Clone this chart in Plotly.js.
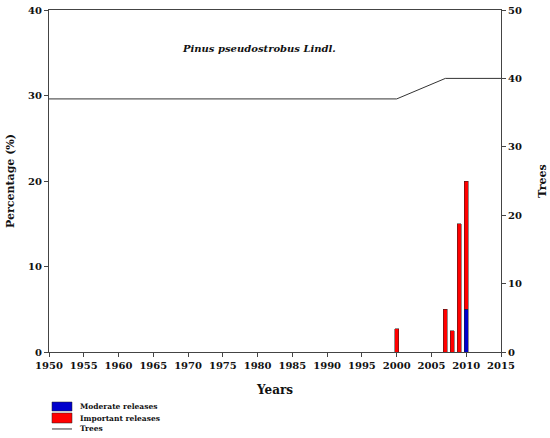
<!DOCTYPE html>
<html>
<head>
<meta charset="utf-8">
<script src="https://cdn.plot.ly/plotly-3.0.1.min.js"></script>
<style>
  html, body { margin: 0; padding: 0; background: #fff; }
  #chart { width: 550px; height: 438px; }
</style>
</head>
<body>
<div id="chart"></div>
<script>
// release years and percentages
const releaseYears = [2000, 2007, 2008, 2009, 2010];
const moderate = [0, 0, 0, 0, 5];
const important = [2.7, 5, 2.5, 15, 15];

// number of trees in the sample
const treeYears = [1950, 2000, 2007, 2015];
const trees = [37, 37, 40, 40];

const legendNames = ['Moderate releases', 'Important releases', 'Trees'];
const blue = '#0000cc', red = '#ff0000';

const serif = 'DejaVu Serif';
const axisColor = '#444';

const traces = [
  {
    x: releaseYears, y: moderate, name: legendNames[0], type: 'bar',
    width: 0.6, marker: { color: blue, line: { color: '#222', width: 0.5 } }
  },
  {
    x: releaseYears, y: important, name: legendNames[1], type: 'bar',
    width: 0.6, marker: { color: red, line: { color: '#222', width: 0.5 } }
  },
  {
    x: treeYears, y: trees, name: legendNames[2], type: 'scatter', mode: 'lines',
    yaxis: 'y2', line: { color: '#333', width: 1 }
  }
];

const tickFont = { family: serif, size: 10, color: '#111', weight: 'bold' };
const legFont = { family: serif, size: 7.5, color: '#111', weight: 'bold' };

// legend drawn by hand below the plot (paper coords)
const shapes = [
  { type: 'rect', xref: 'paper', yref: 'paper', x0: 0.0066, x1: 0.0509, y0: -0.1725, y1: -0.1462,
    fillcolor: blue, line: { color: '#222', width: 0.5 } },
  { type: 'rect', xref: 'paper', yref: 'paper', x0: 0.0066, x1: 0.0509, y0: -0.2076, y1: -0.1784,
    fillcolor: red, line: { color: '#222', width: 0.5 } },
  { type: 'line', xref: 'paper', yref: 'paper', x0: 0.0066, x1: 0.0509, y0: -0.2251, y1: -0.2251,
    line: { color: '#333', width: 1 } }
];
const legY = [-0.1579, -0.1930, -0.2251];
const annotations = legendNames.map((n, i) => ({
  text: n, xref: 'paper', yref: 'paper', x: 0.064, y: legY[i],
  xanchor: 'left', yanchor: 'middle', showarrow: false, font: legFont
}));
annotations.push({
  text: '<b><i>Pinus pseudostrobus Lindl.</i></b>',
  xref: 'paper', yref: 'paper', x: 0.465, y: 0.91,
  showarrow: false, font: { family: serif, size: 10, color: '#111' }
});

const layout = {
  width: 550, height: 438,
  margin: { l: 49, r: 49, t: 10, b: 86 },
  paper_bgcolor: '#fff', plot_bgcolor: '#fff',
  barmode: 'stack',
  showlegend: false,
  xaxis: {
    range: [1950, 2015], dtick: 5, tick0: 1950, automargin: false,
    showgrid: false, zeroline: false,
    showline: true, linecolor: axisColor, linewidth: 1, mirror: true,
    ticks: 'outside', ticklen: 4, tickcolor: axisColor,
    tickfont: tickFont,
    title: { text: 'Years', font: { family: serif, size: 12, color: '#111', weight: 'bold' }, standoff: 15 }
  },
  yaxis: {
    range: [0, 40], dtick: 10, automargin: false,
    showgrid: false, zeroline: false,
    showline: true, linecolor: axisColor, linewidth: 1,
    ticks: 'outside', ticklen: 4, tickcolor: axisColor,
    tickfont: tickFont,
    title: { text: 'Percentage (%)', font: { family: serif, size: 11, color: '#111', weight: 'bold' }, standoff: 11 }
  },
  yaxis2: {
    range: [0, 50], dtick: 10, overlaying: 'y', side: 'right', automargin: false,
    showgrid: false, zeroline: false,
    showline: true, linecolor: axisColor, linewidth: 1,
    ticks: 'outside', ticklen: 4, tickcolor: axisColor,
    tickfont: tickFont,
    title: { text: 'Trees', font: { family: serif, size: 11, color: '#111', weight: 'bold' }, standoff: 17 }
  },
  shapes: shapes,
  annotations: annotations
};

Plotly.newPlot('chart', traces, layout, { displayModeBar: false, staticPlot: true });
</script>
</body>
</html>
